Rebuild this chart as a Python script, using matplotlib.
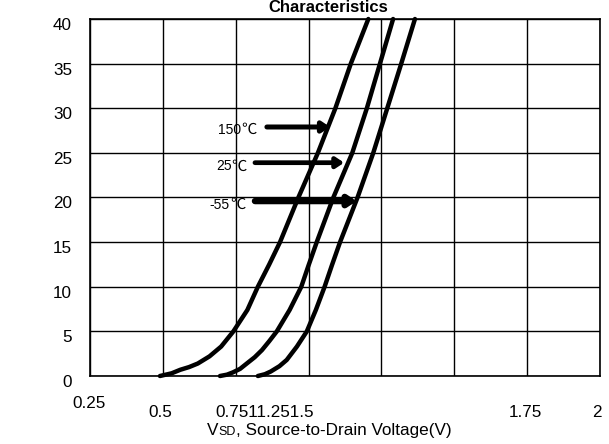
import numpy as np
import matplotlib
matplotlib.use("Agg")
import matplotlib.pyplot as plt
from matplotlib.transforms import blended_transform_factory, offset_copy

plt.rcParams['font.family'] = ['Liberation Sans', 'Noto Sans CJK SC', 'DejaVu Sans']

# Source-drain diode forward characteristics: V_SD (V) vs I_S (A)
v_150 = [0.49, 0.53, 0.56, 0.59, 0.62, 0.66, 0.70, 0.742, 0.79, 0.826, 0.865, 0.902,
         0.965, 1.032, 1.092, 1.145, 1.205]
i_150 = [0.0, 0.3, 0.7, 1.0, 1.4, 2.2, 3.3, 5.0, 7.4, 10.0, 12.5, 15.0,
         20.0, 25.0, 30.0, 35.0, 40.0]

v_25 = [0.696, 0.72, 0.74, 0.765, 0.788, 0.815, 0.84, 0.865, 0.891, 0.935, 0.975, 1.0,
        1.028, 1.085, 1.15, 1.20, 1.245, 1.29]
i_25 = [0.0, 0.15, 0.4, 0.8, 1.4, 2.1, 2.9, 3.9, 5.0, 7.4, 10.0, 12.4,
        15.0, 20.0, 25.0, 30.0, 35.0, 40.0]

v_m55 = [0.826, 0.85, 0.87, 0.90, 0.925, 0.96, 0.994, 1.025, 1.055, 1.08, 1.108,
         1.168, 1.222, 1.270, 1.318, 1.365]
i_m55 = [0.0, 0.2, 0.5, 1.1, 1.8, 3.3, 5.0, 7.4, 10.0, 12.4, 15.0,
         20.0, 25.0, 30.0, 35.0, 40.0]

temp_values = ["150", "25", "-55"]
temp_unit = "℃"

x_ticks = [0.25, 0.5, 0.75, 1.0, 1.25, 1.5, 1.75, 2.0]
x_tick_labels = ["0.25", "0.5", "0.75", "1", "1.25", "1.5", "1.75", "2"]
y_ticks = [0, 5, 10, 15, 20, 25, 30, 35, 40]

fig = plt.figure(figsize=(6.09, 4.44), dpi=100)
W, H = 609, 444
ax = fig.add_axes([90 / W, (H - 376) / H, (600 - 90) / W, (376 - 19) / H])

ax.set_xlim(0.25, 2.0)
ax.set_ylim(0, 40)
ax.set_xticks(x_ticks)
ax.set_yticks(y_ticks)
ax.grid(True, color='black', lw=1.0)
ax.set_axisbelow(True)
for sp in ax.spines.values():
    sp.set_color('black')
    sp.set_linewidth(1.2)
ax.tick_params(axis='both', length=0)
ax.tick_params(axis='x', labelbottom=False)
ax.tick_params(axis='y', labelsize=12.3, pad=13)
for lbl in ax.get_yticklabels():
    lbl.set_transform(offset_copy(lbl.get_transform(), fig=fig, x=0, y=-5, units='dots'))

for v, i in ((v_150, i_150), (v_25, i_25), (v_m55, i_m55)):
    ax.plot(v, i, color='black', lw=3.2, solid_capstyle='round',
            solid_joinstyle='round', clip_on=False)

renderer = fig.canvas.get_renderer()

# temperature callouts
arrow_y = [27.9, 23.9, 19.6]
arrow_tail = [0.857, 0.816, 0.816]
arrow_tip = [1.074, 1.122, 1.165]
arrow_lw = [3.6, 3.4, 4.6]
label_right = [0.820, 0.788, 0.782]
label_y = [27.6, 23.5, 19.2]
for val, y, x0, x1, lw, lx, ly in zip(temp_values, arrow_y, arrow_tail, arrow_tip,
                                     arrow_lw, label_right, label_y):
    ax.annotate("", xy=(x1, y), xytext=(x0, y),
                arrowprops=dict(arrowstyle="-|>,head_length=0.45,head_width=0.3",
                                lw=lw, color='black', shrinkA=0, shrinkB=0))
    unit = ax.text(lx, ly, temp_unit, ha='right', va='center', fontsize=11,
                   color='black', family=['Noto Sans CJK SC', 'DejaVu Sans'])
    ub = unit.get_window_extent(renderer)
    num_x = ax.transData.inverted().transform((ub.x0, 0))[0]
    ax.text(num_x, ly, val, ha='right', va='center', fontsize=10, color='black')

# x tick labels
tr = blended_transform_factory(ax.transData, fig.transFigure)
ax.text(x_ticks[0] - 0.005, (H - 403) / H, x_tick_labels[0], transform=tr,
        ha='center', va='center', fontsize=12.3)
ax.text(0.49, (H - 412) / H, x_tick_labels[1], transform=tr,
        ha='center', va='center', fontsize=12.3)
ax.text(0.679, (H - 412) / H, "".join(x_tick_labels[2:6]), transform=tr,
        ha='left', va='center', fontsize=12.3)
ax.text(1.743, (H - 412) / H, x_tick_labels[6], transform=tr,
        ha='center', va='center', fontsize=12.3)
ax.text(1.99, (H - 412) / H, x_tick_labels[7], transform=tr,
        ha='center', va='center', fontsize=12.3)

# title
fig.text(328 / W, 1 - 12 / H, "Characteristics", ha='center', va='baseline',
         fontsize=12, fontweight='bold')

# x axis label with small-caps "SD"
base_y = (H - 435) / H
x = 207 / W
for piece, size in (("V", 12.3), ("SD", 9), (", Source-to-Drain Voltage(V)", 12.3)):
    t = fig.text(x, base_y, piece, ha='left', va='baseline', fontsize=size)
    bb = t.get_window_extent(renderer)
    x = bb.x1 / W

fig.savefig("out.png", dpi=100)
